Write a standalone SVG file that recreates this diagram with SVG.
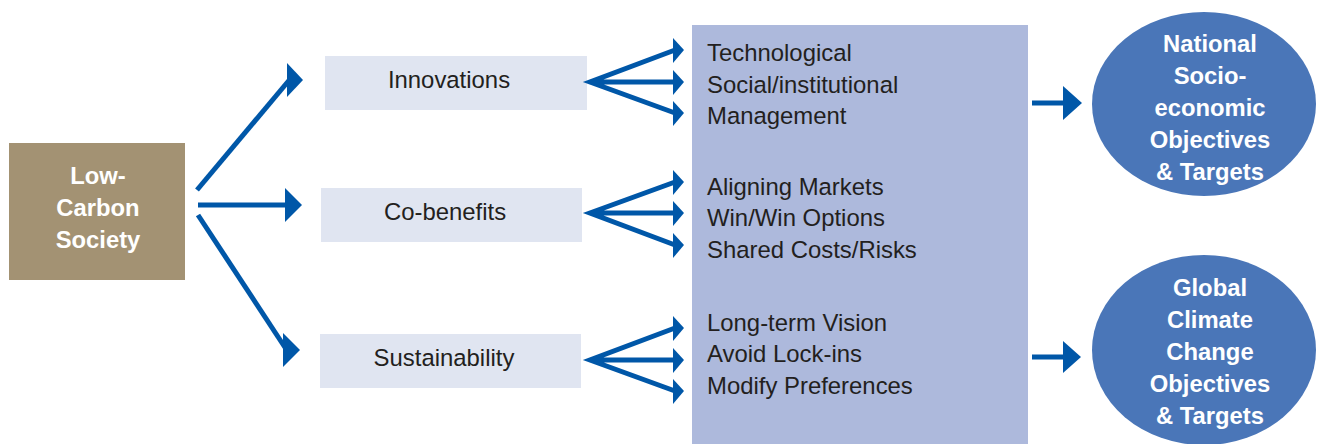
<svg xmlns="http://www.w3.org/2000/svg" width="1317" height="444" viewBox="0 0 1317 444">
<style>
.t{font-family:"Liberation Sans",Arial,sans-serif;font-size:23.9px;fill:#231F20}
.w{font-family:"Liberation Sans",Arial,sans-serif;font-size:23.8px;font-weight:bold;fill:#ffffff;text-anchor:middle}
.lbl{fill:#E0E5F1}
.ln{stroke:#0057A8;stroke-width:5;fill:none}
.hd{fill:#0057A8}
</style>
<rect width="1317" height="444" fill="#ffffff"/>
<g id="bigbox">
<rect x="692" y="25" width="336" height="419" fill="#ADB9DC"/>
<text class="t" x="707" y="61">Technological</text>
<text class="t" x="707" y="93">Social/institutional</text>
<text class="t" x="707" y="124">Management</text>
<text class="t" x="707" y="195">Aligning Markets</text>
<text class="t" x="707" y="226">Win/Win Options</text>
<text class="t" x="707" y="258">Shared Costs/Risks</text>
<text class="t" x="707" y="331">Long-term Vision</text>
<text class="t" x="707" y="362">Avoid Lock-ins</text>
<text class="t" x="707" y="394">Modify Preferences</text>
</g>
<g id="lowcarbon">
<rect x="9" y="143" width="176" height="137" fill="#A39273"/>
<text class="w" x="98" y="184">Low-</text>
<text class="w" x="98" y="216">Carbon</text>
<text class="w" x="98" y="248">Society</text>
</g>
<g id="innovations">
<rect class="lbl" x="325" y="56" width="262" height="54"/>
<text class="t" x="449" y="88" text-anchor="middle">Innovations</text>
</g>
<g id="cobenefits">
<rect class="lbl" x="321" y="188" width="261" height="54"/>
<text class="t" x="445" y="220" text-anchor="middle">Co-benefits</text>
</g>
<g id="sustainability">
<rect class="lbl" x="320" y="334" width="261" height="54"/>
<text class="t" x="444" y="366" text-anchor="middle">Sustainability</text>
</g>
<g id="national">
<ellipse cx="1204" cy="104" rx="112" ry="92" fill="#4A76B8"/>
<text class="w" x="1210" y="52">National</text>
<text class="w" x="1210" y="84">Socio-</text>
<text class="w" x="1210" y="116">economic</text>
<text class="w" x="1210" y="148">Objectives</text>
<text class="w" x="1210" y="180">&amp; Targets</text>
</g>
<g id="global">
<ellipse cx="1204" cy="350" rx="112" ry="95" fill="#4A76B8"/>
<text class="w" x="1210" y="296">Global</text>
<text class="w" x="1210" y="328">Climate</text>
<text class="w" x="1210" y="360">Change</text>
<text class="w" x="1210" y="392">Objectives</text>
<text class="w" x="1210" y="424">&amp; Targets</text>
</g>
<g id="connectors">
<path class="ln" d="M197 190 L291 78"/>
<polygon class="hd" points="287,63 303,80 287,97"/>
<path class="ln" d="M198 205 L287 205"/>
<polygon class="hd" points="285,188 302,205 285,222"/>
<path class="ln" d="M198 215 L288 352"/>
<polygon class="hd" points="283,333 300,350 283,367"/>
<path class="ln" d="M675 50 L590 82 L675 113 M590 82 L675 82"/>
<polygon class="hd" points="673,38 684,50 673,63"/>
<polygon class="hd" points="673,70 684,82 673,95"/>
<polygon class="hd" points="673,101 684,113 673,126"/>
<path class="ln" d="M675 182 L590 213 L675 245 M590 213 L675 213"/>
<polygon class="hd" points="673,170 684,182 673,195"/>
<polygon class="hd" points="673,201 684,213 673,226"/>
<polygon class="hd" points="673,233 684,245 673,258"/>
<path class="ln" d="M675 328 L590 360 L675 391 M590 360 L675 360"/>
<polygon class="hd" points="673,316 684,328 673,341"/>
<polygon class="hd" points="673,348 684,360 673,373"/>
<polygon class="hd" points="673,379 684,391 673,404"/>
<path class="ln" d="M1032 103 L1066 103"/>
<polygon class="hd" points="1063,86 1082,103 1063,120"/>
<path class="ln" d="M1032 357 L1066 357"/>
<polygon class="hd" points="1063,341 1081,357 1063,373"/>
</g>
</svg>
